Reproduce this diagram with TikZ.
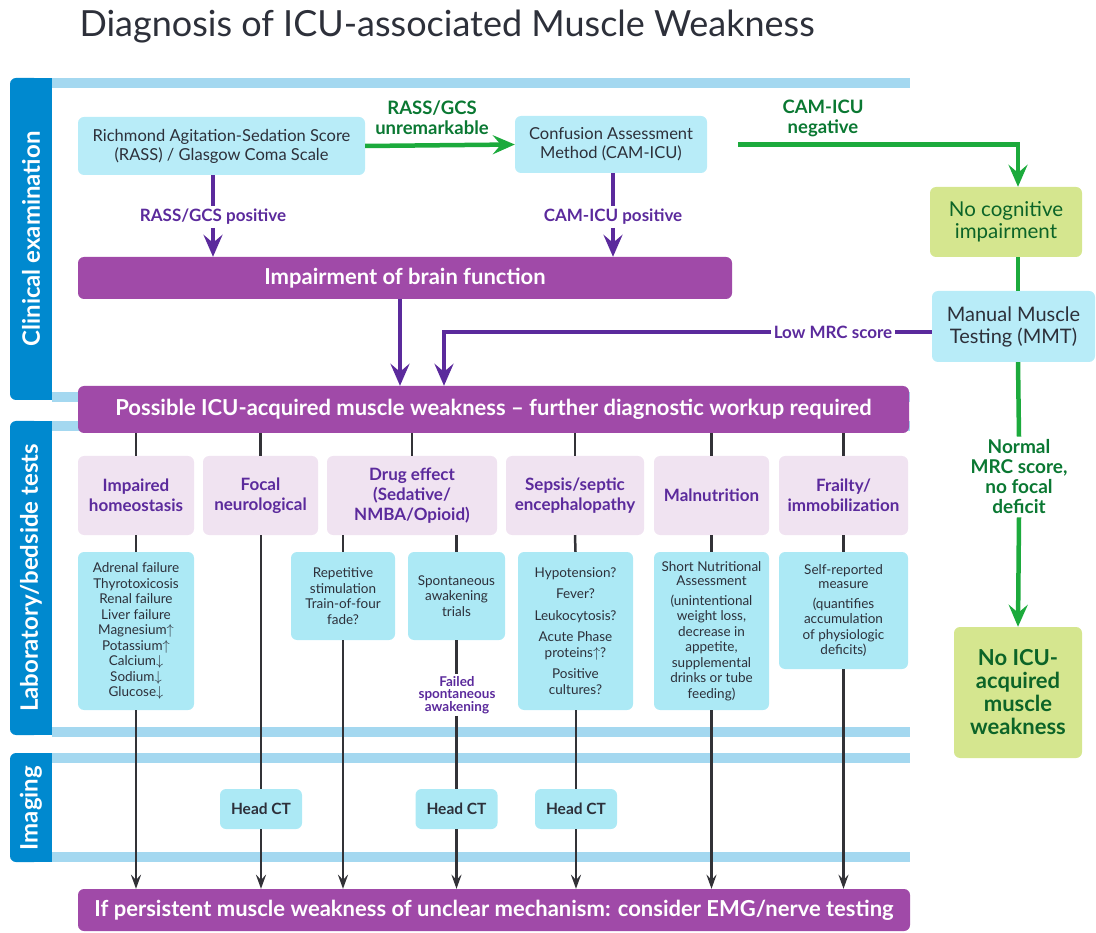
\documentclass[tikz,border=0pt]{standalone}
\usepackage{fontspec}
\setmainfont{Lato}
\usepackage{tikz}
\usetikzlibrary{arrows.meta,positioning,calc}
\definecolor{bandblue}{RGB}{0,137,207}
\definecolor{barblue}{RGB}{164,216,240}
\definecolor{topcyan}{RGB}{184,236,248}
\definecolor{detailcyan}{RGB}{172,233,245}
\definecolor{catpink}{RGB}{240,227,241}
\definecolor{boxpurple}{RGB}{160,74,168}
\definecolor{darkpurple}{RGB}{91,42,156}
\definecolor{greenline}{RGB}{28,170,60}
\definecolor{greentext}{RGB}{10,120,50}
\definecolor{lightgreen}{RGB}{213,230,143}
\definecolor{darkgreen}{RGB}{12,100,40}
\definecolor{textdark}{RGB}{45,48,58}
\definecolor{linegray}{RGB}{50,50,55}

\begin{document}
\begin{tikzpicture}[x=1pt,y=-1pt]

\tikzset{topbox/.style={fill=topcyan,rounded corners=6pt,align=center,text=textdark,inner sep=0pt,font=\fontsize{16.5}{19}\selectfont},
catbox/.style={fill=catpink,rounded corners=6pt,align=center,text=darkpurple,inner sep=0pt,font=\bfseries\fontsize{17}{20}\selectfont},
detailbox/.style={fill=detailcyan,rounded corners=6pt,align=center,text=textdark,inner sep=0pt,font=\fontsize{13.5}{15.5}\selectfont},
purplebox/.style={fill=boxpurple,rounded corners=6pt,text=white,inner sep=0pt,font=\bfseries\fontsize{22}{24}\selectfont},
greenbox/.style={fill=lightgreen,rounded corners=6pt,align=center,text=darkgreen,inner sep=0pt},
ctbox/.style={fill=detailcyan,rounded corners=6pt,text=textdark,inner sep=0pt,minimum width=82pt,minimum height=40pt,font=\bfseries\fontsize{15.5}{17}\selectfont},
bandlabel/.style={rotate=90,text=white,font=\bfseries\fontsize{24}{26}\selectfont},
purplelabel/.style={text=darkpurple,align=center,inner sep=3pt,font=\bfseries\fontsize{17}{19}\selectfont},
greenlabel/.style={text=greentext,align=center,inner sep=3pt,font=\bfseries\fontsize{18.5}{20}\selectfont},
purpleline/.style={draw=darkpurple,line width=4.5pt},
purplearrow/.style={purpleline,-{Stealth[length=22pt,width=19pt,inset=8pt]}},
greenpath/.style={draw=greenline,line width=4.5pt},
greenarrow/.style={greenpath,-{Stealth[length=22pt,width=19pt,inset=8pt]}},
grayline/.style={draw=linegray,line width=2.5pt},
grayarrow/.style={grayline,-{Stealth[length=14pt,width=10pt,inset=5pt]}}}

\useasboundingbox (0,0) rectangle (1096,933);

% Title
\node[anchor=west,text=textdark,font=\fontsize{36}{40}\selectfont] (title) at (76,27) {Diagnosis of ICU-associated Muscle Weakness};

% Section bands
\fill[bandblue,rounded corners=6pt] (10,78) rectangle (40,400);
\fill[bandblue] (30,78) rectangle (52,400);
\fill[bandblue,rounded corners=6pt] (10,421) rectangle (40,735);
\fill[bandblue] (30,421) rectangle (52,735);
\fill[bandblue,rounded corners=6pt] (10,753) rectangle (40,862);
\fill[bandblue] (30,753) rectangle (52,862);
\foreach \y in {78,392,421,727,753,852} \fill[barblue] (52,\y) rectangle (910,\y+10); % light bars
\node[bandlabel] (clinlab) at (31,239) {Clinical examination};
\node[bandlabel] (lablab) at (31,578) {Laboratory/bedside tests};
\node[bandlabel] (imglab) at (31,808) {Imaging};

% Clinical examination
\node[topbox,minimum width=287pt,minimum height=58pt] (rass) at (221.5,146) {Richmond Agitation-Sedation Score\\(RASS) / Glasgow Coma Scale};
\node[topbox,minimum width=192pt,minimum height=57pt] (cam) at (611,144.5) {Confusion Assessment\\Method (CAM-ICU)};
\node[greenbox,minimum width=152pt,minimum height=70pt,font=\fontsize{20.5}{22}\selectfont] (nocog) at (1006,222) {No cognitive\\impairment};
\node[topbox,minimum width=163pt,minimum height=71pt,font=\fontsize{20}{22}\selectfont] (mmt) at (1013.5,326.5) {Manual Muscle\\Testing (MMT)};
\node[purplebox,minimum width=654pt,minimum height=42pt] (brain) at (405,278) {Impairment of brain function};
\node[purplebox,minimum width=831pt,minimum height=47pt] (possible) at (493.5,409.5) {Possible ICU-acquired muscle weakness -- further diagnostic workup required};
\node[greenbox,minimum width=128pt,minimum height=131pt,font=\bfseries\fontsize{22}{23}\selectfont] (noicu) at (1018,692.5) {No ICU-\\acquired\\muscle\\weakness};

% Labels on the connectors
\node[greenlabel] (unrem) at (432,118) {RASS/GCS\\unremarkable};
\node[greenlabel] (camneg) at (823,118) {CAM-ICU\\negative};
\node[purplelabel] (rasspos) at (213,217) {RASS/GCS positive};
\node[purplelabel] (campos) at (613,217) {CAM-ICU positive};
\node[purplelabel] (lowmrc) at (833,332) {Low MRC score};
\node[greenlabel,font=\bfseries\fontsize{19}{20}\selectfont] (normal) at (1019,477) {Normal\\MRC score,\\no focal\\deficit};

% Laboratory/bedside tests
\node[catbox,minimum width=116pt,minimum height=79pt] (homeo) at (136,495.5) {Impaired\\homeostasis};
\node[catbox,minimum width=115pt,minimum height=79pt] (focal) at (260.5,495.5) {Focal\\neurological};
\node[catbox,minimum width=170pt,minimum height=79pt] (drug) at (412,495.5) {Drug effect\\(Sedative/\\NMBA/Opioid)};
\node[catbox,minimum width=138pt,minimum height=79pt] (sepsis) at (575,495.5) {Sepsis/septic\\encephalopathy};
\node[catbox,minimum width=115pt,minimum height=79pt] (malnut) at (711.5,495.5) {Malnutrition};
\node[catbox,minimum width=129pt,minimum height=79pt] (frailty) at (843.5,495.5) {Frailty/\\immobilization};

\node[detailbox,minimum width=116pt,minimum height=158pt] (homeolist) at (136,631) {Adrenal failure\\Thyrotoxicosis\\Renal failure\\Liver failure\\Magnesium$\uparrow$\\Potassium$\uparrow$\\Calcium$\downarrow$\\Sodium$\downarrow$\\Glucose$\downarrow$};
\node[detailbox,minimum width=104pt,minimum height=88pt] (repstim) at (343,596) {Repetitive\\stimulation\\Train-of-four\\fade?};
\node[detailbox,minimum width=97pt,minimum height=88pt] (spont) at (456.5,596) {Spontaneous\\awakening\\trials};
\node[detailbox,minimum width=115pt,minimum height=158pt] (sepsislist) at (575.5,631) {Hypotension?\\[6pt]Fever?\\[6pt]Leukocytosis?\\[6pt]Acute Phase\\proteins$\uparrow$?\\[6pt]Positive\\cultures?};
\node[detailbox,minimum width=115pt,minimum height=158pt] (nutri) at (711.5,631) {Short Nutritional\\[-1pt]Assessment\\[4pt](unintentional\\weight loss,\\decrease in\\appetite,\\supplemental\\drinks or tube\\feeding)};
\node[detailbox,minimum width=129pt,minimum height=117pt] (selfrep) at (843.5,610.5) {Self-reported\\[-1pt]measure\\[4pt](quantifies\\accumulation\\of physiologic\\deficits)};
\node[purplelabel,inner sep=2pt,font=\bfseries\fontsize{13.5}{12.5}\selectfont] (failed) at (457,695) {Failed\\spontaneous\\awakening};

% Imaging
\node[ctbox] (headct1) at (261,809) {Head CT};
\node[ctbox] (headct2) at (456.5,809) {Head CT};
\node[ctbox] (headct3) at (576,809) {Head CT};

\node[purplebox,minimum width=832pt,minimum height=42pt] (final) at (494,910) {If persistent muscle weakness of unclear mechanism: consider EMG/nerve testing};

% Green edges
\draw[greenarrow] (rass.east) -- (cam.west);
\draw[greenarrow,shorten <=31pt] (cam.east) -| (nocog.north -| noicu.north);
\draw[greenpath] (nocog.south -| noicu.north) -- (mmt.north -| noicu.north);
\draw[greenpath] (mmt.south -| noicu.north) -- (normal.north);
\draw[greenarrow] (normal.south) -- (noicu.north);

% Purple edges
\draw[purpleline] (rass.south -| rasspos.north) -- (rasspos.north);
\draw[purplearrow] (rasspos.south) -- (brain.north -| rasspos.south);
\draw[purpleline] (cam.south -| campos.north) -- (campos.north);
\draw[purplearrow] (campos.south) -- (brain.north -| campos.south);
\draw[purplearrow] ([xshift=-5pt]brain.south) -- ([xshift=-5pt]brain.south |- possible.north);
\draw[purpleline] (lowmrc.east -| mmt.west) -- (lowmrc.east);
\draw[purplearrow] (lowmrc.west) -| ([xshift=-49.5pt]possible.north);

% Gray edges
\foreach \n in {homeo,focal,sepsis,malnut,frailty} \draw[grayline] (possible.south -| \n.north) -- (\n.north);
\draw[grayline] (possible.south -| drug.north) -- (drug.north);
\draw[grayline] (homeo.south) -- (homeolist.north);
\draw[grayline] (drug.south -| repstim.north) -- (repstim.north);
\draw[grayline] (drug.south -| spont.north) -- (spont.north);
\draw[grayline] (sepsis.south) -- (sepsislist.north);
\draw[grayline] (malnut.south) -- (nutri.north);
\draw[grayline] (frailty.south) -- (selfrep.north);

\draw[grayarrow] (homeolist.south) -- (homeolist.south |- final.north);
\draw[grayline] (focal.south -| headct1.north) -- (headct1.north);
\draw[grayarrow] (headct1.south) -- (headct1.south |- final.north);
\draw[grayarrow] (repstim.south) -- (repstim.south |- final.north);
\draw[grayline] (spont.south) -- (failed.north -| spont.south);
\draw[grayline] (failed.south -| headct2.north) -- (headct2.north);
\draw[grayarrow] (headct2.south) -- (headct2.south |- final.north);
\draw[grayline] (sepsislist.south -| headct3.north) -- (headct3.north);
\draw[grayarrow] (headct3.south) -- (headct3.south |- final.north);
\draw[grayarrow] (nutri.south) -- (nutri.south |- final.north);
\draw[grayarrow] (selfrep.south) -- (selfrep.south |- final.north);

\end{tikzpicture}
\end{document}
